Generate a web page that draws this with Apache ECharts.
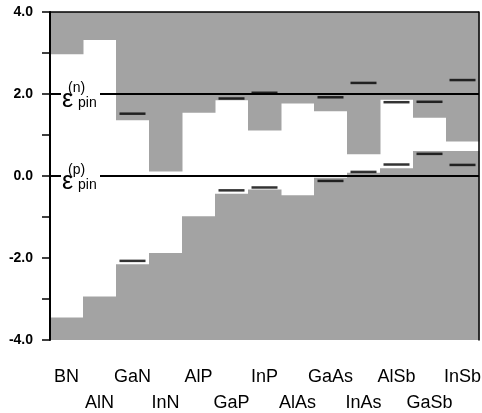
<!DOCTYPE html>
<html>
<head>
<meta charset="utf-8">
<script src="https://cdn.jsdelivr.net/npm/echarts/dist/echarts.min.js"></script>
<style>
html,body{margin:0;padding:0;background:#fff}
#main{width:482px;height:413px}
</style>
</head>
<body>
<div id="main"></div>
<script>
var compounds = ['BN','AlN','GaN','InN','AlP','GaP','InP','AlAs','GaAs','InAs','AlSb','GaSb','InSb'];
// conduction band edge (eV): lower edge of the upper grey block
var cbm = [2.97, 3.32, 1.36, 0.11, 1.54, 1.85, 1.11, 1.77, 1.58, 0.53, 1.86, 1.42, 0.84];
// valence band edge (eV): upper edge of the lower grey block
var vbm = [-3.45, -2.94, -2.15, -1.88, -0.98, -0.43, -0.33, -0.47, -0.04, 0.08, 0.19, 0.61, 0.61];
// short black marks [compound index, energy]
var marks = [[2,1.52],[2,-2.07],[5,1.89],[5,-0.35],[6,2.03],[6,-0.28],[8,1.92],[8,-0.12],
             [9,2.27],[9,0.10],[10,1.80],[10,0.28],[11,1.81],[11,0.54],[12,2.34],[12,0.27]];
var yMin = -4, yMax = 4;
var yLabels = ['-4.0','-2.0','0.0','2.0','4.0'];
// pinning levels and their superscripts
var pinLevels = [2.0, 0.0];
var pinNames = ['n', 'p'];

var gridLeft = 50;
var grey = '#a3a3a3';

var upper = compounds.map(function (c, i) { return [i, cbm[i], yMax]; });
var lower = compounds.map(function (c, i) { return [i, yMin, vbm[i]]; });

function block(params, api) {
    var i = api.value(0);
    var p0 = api.coord([i, api.value(1)]);
    var p1 = api.coord([i, api.value(2)]);
    var w = api.size([1, 0])[0];
    return {
        type: 'rect',
        shape: {x: p0[0] - w / 2, y: p1[1], width: w + 0.5, height: p0[1] - p1[1]},
        style: {fill: grey}
    };
}

var chart = echarts.init(document.getElementById('main'));
chart.setOption({
    animation: false,
    grid: {left: gridLeft, right: 3, top: 12, bottom: 73, containLabel: false, outerBoundsMode: 'none'},
    xAxis: {
        type: 'category',
        data: compounds,
        boundaryGap: true,
        axisLine: {show: true, lineStyle: {color: '#555', width: 1}},
        axisTick: {show: false},
        axisLabel: {
            interval: 0,
            margin: 24,
            fontSize: 18,
            lineHeight: 26,
            color: '#000',
            fontFamily: 'Liberation Sans',
            formatter: function (v, idx) { return idx % 2 ? '\n' + v : v; }
        }
    },
    yAxis: [{
        type: 'value',
        min: yMin,
        max: yMax,
        interval: 1,
        z: 10,
        axisLine: {show: true, lineStyle: {color: '#000', width: 2}},
        axisTick: {show: true, length: 8, lineStyle: {color: '#000', width: 1.5}},
        splitLine: {show: false},
        axisLabel: {
            margin: 17,
            fontSize: 14,
            fontWeight: 'bold',
            color: '#000',
            fontFamily: 'Liberation Sans',
            formatter: function (v) {
                var s = v.toFixed(1);
                return yLabels.indexOf(s) >= 0 ? s : '';
            }
        }
    }, {
        type: 'value',
        position: 'right',
        min: yMin,
        max: yMax,
        z: 10,
        axisLine: {show: true, lineStyle: {color: '#000', width: 1.5}},
        axisTick: {show: false},
        axisLabel: {show: false},
        splitLine: {show: false}
    }],
    series: [{
        type: 'custom',
        renderItem: block,
        data: upper,
        z: 1,
        silent: true
    }, {
        type: 'custom',
        renderItem: block,
        data: lower,
        z: 1,
        silent: true
    }, {
        type: 'scatter',
        data: marks,
        symbol: 'rect',
        symbolSize: [26, 2.5],
        itemStyle: {color: '#000'},
        z: 6,
        silent: true,
        markLine: {
            silent: true,
            symbol: 'none',
            label: {show: false},
            lineStyle: {color: '#000', width: 2, type: 'solid'},
            data: [{yAxis: pinLevels[0]}, {yAxis: pinLevels[1]}, {yAxis: yMax, lineStyle: {width: 1.5}}]
        }
    }]
});

// epsilon_pin labels that break the two pinning lines
var gfx = [];
pinLevels.forEach(function (lv, k) {
    var y = chart.convertToPixel({yAxisIndex: 0}, lv);
    gfx.push({type: 'rect', shape: {x: gridLeft + 11, y: y - 3, width: 39, height: 6}, style: {fill: '#fff'}, z: 20});
    gfx.push({type: 'text', x: gridLeft + 12, y: y + 6,
        style: {text: 'ε', font: '25px "Liberation Sans"', verticalAlign: 'middle', fill: '#000'}, z: 21});
    gfx.push({type: 'text', x: gridLeft + 18, y: y - 6,
        style: {text: '(' + pinNames[k] + ')', font: '14px "Liberation Sans"', verticalAlign: 'middle', fill: '#000'}, z: 21});
    gfx.push({type: 'text', x: gridLeft + 28, y: y + 9,
        style: {text: 'pin', font: '14px "Liberation Sans"', verticalAlign: 'middle', fill: '#000'}, z: 21});
});
chart.setOption({graphic: gfx});
</script>
</body>
</html>
